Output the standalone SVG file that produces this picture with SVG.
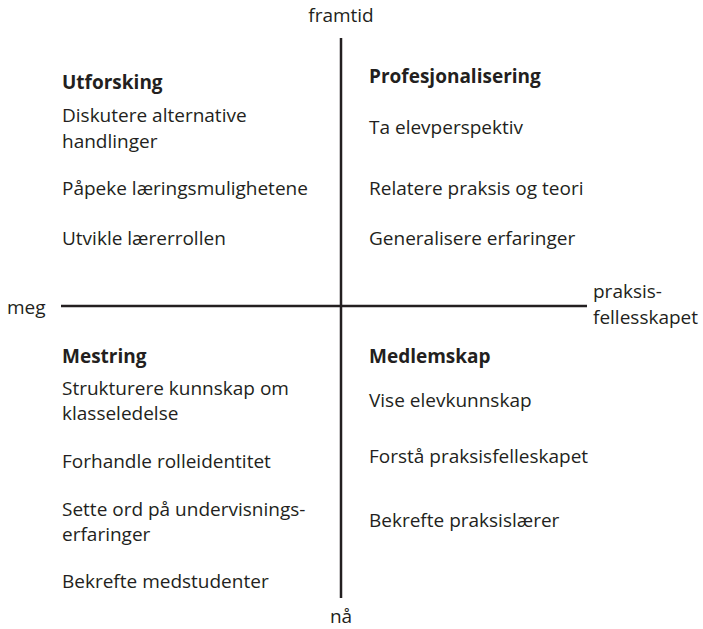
<svg xmlns="http://www.w3.org/2000/svg" width="703" height="629" viewBox="0 0 703 629">
<style>
text{font-family:"Open Sans","Noto Sans",sans-serif;font-size:19px;fill:#231f20}
.b{font-weight:bold}
.m{text-anchor:middle}
.ax{stroke:#231f20;stroke-width:2.5;fill:none}
</style>
<rect width="703" height="629" fill="#fff"/>
<g id="connectors">
<line class="ax" x1="341" y1="38" x2="341" y2="598"/>
<line class="ax" x1="61" y1="306" x2="587" y2="306"/>
</g>
<g id="axis-labels">
<text class="m" x="341" y="22">framtid</text>
<text class="m" x="341" y="623">nå</text>
<text x="7" y="314">meg</text>
<text x="593" y="298">praksis-</text>
<text x="593" y="324">fellesskapet</text>
</g>
<g id="utforsking">
<text class="b" x="62" y="89">Utforsking</text>
<text x="62" y="122">Diskutere alternative</text>
<text x="62" y="148">handlinger</text>
<text x="62" y="195">Påpeke læringsmulighetene</text>
<text x="62" y="245">Utvikle lærerrollen</text>
</g>
<g id="profesjonalisering">
<text class="b" x="369" y="83">Profesjonalisering</text>
<text x="369" y="134">Ta elevperspektiv</text>
<text x="369" y="195">Relatere praksis og teori</text>
<text x="369" y="245">Generalisere erfaringer</text>
</g>
<g id="mestring">
<text class="b" x="62" y="363">Mestring</text>
<text x="62" y="395">Strukturere kunnskap om</text>
<text x="62" y="420">klasseledelse</text>
<text x="62" y="468">Forhandle rolleidentitet</text>
<text x="62" y="516">Sette ord på undervisnings-</text>
<text x="62" y="541">erfaringer</text>
<text x="62" y="588">Bekrefte medstudenter</text>
</g>
<g id="medlemskap">
<text class="b" x="369" y="363">Medlemskap</text>
<text x="369" y="407">Vise elevkunnskap</text>
<text x="369" y="463">Forstå praksisfelleskapet</text>
<text x="369" y="527">Bekrefte praksislærer</text>
</g>
</svg>
